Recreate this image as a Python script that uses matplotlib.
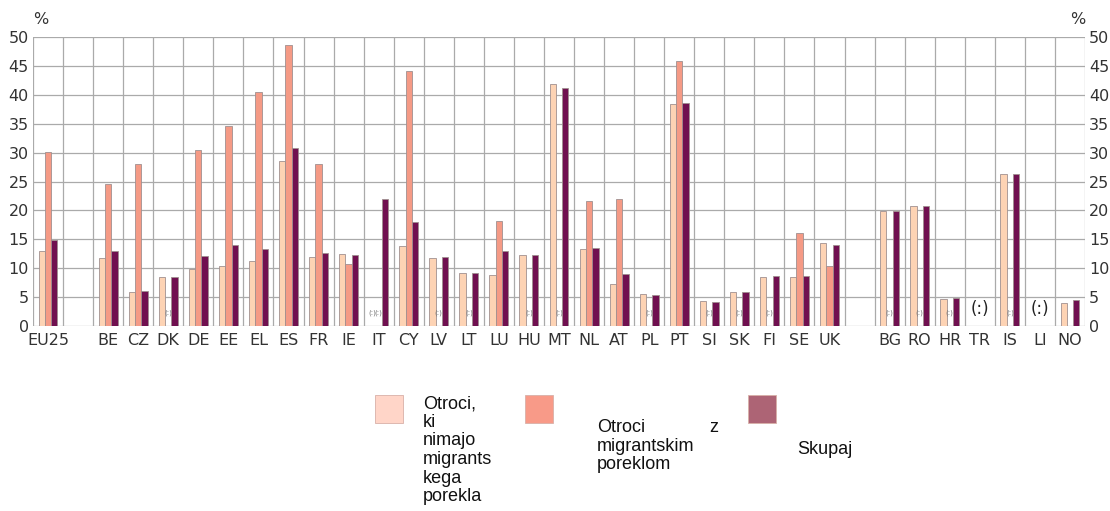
import numpy as np
import matplotlib
matplotlib.use("Agg")
import matplotlib.pyplot as plt
from matplotlib.patches import Rectangle

# categories ("" = empty slot)
countries = ["EU25", "", "BE", "CZ", "DK", "DE", "EE", "EL", "ES", "FR", "IE",
             "IT", "CY", "LV", "LT", "LU", "HU", "MT", "NL", "AT", "PL", "PT",
             "SI", "SK", "FI", "SE", "UK", "", "BG", "RO", "HR", "TR", "IS",
             "LI", "NO"]

# None = not available (:)
no_migrant = [13.0, None, 11.8, 5.8, 8.5, 9.8, 10.3, 11.3, 28.6, 11.9, 12.4,
              None, 13.9, 11.8, 9.2, 8.8, 12.2, 41.8, 13.3, 7.2, 5.5, 38.4,
              4.3, 5.9, 8.4, 8.4, 14.4, None, 19.9, 20.8, 4.7, None, 26.3,
              None, 4.0]
migrant = [30.1, None, 24.6, 28.1, None, 30.5, 34.6, 40.5, 48.7, 28.1, 10.8,
           None, 44.2, None, None, 18.2, None, None, 21.6, 22.0, None, 45.8,
           None, None, None, 16.1, 10.4, None, None, None, None, None, None,
           None, 0.0]
total = [14.9, None, 13.0, 6.1, 8.5, 12.1, 14.0, 13.3, 30.8, 12.6, 12.2,
         21.9, 18.0, 11.9, 9.2, 12.9, 12.2, 41.2, 13.5, 9.0, 5.4, 38.6,
         4.2, 5.8, 8.6, 8.6, 14.0, None, 19.9, 20.8, 4.8, None, 26.3,
         None, 4.5]

big_na = ["TR", "LI"]

c_light = "#fdd3b4"
c_mid = "#f59a85"
c_dark = "#701050"

fig = plt.figure(figsize=(11.1, 5.11), dpi=100)
ax = fig.add_axes([33 / 1110, 1 - 326 / 511, (1085 - 33) / 1110, (326 - 37) / 511])

x = np.arange(len(countries))
w = 0.21

def draw(vals, off, color):
    for xi, v in zip(x, vals):
        if v is not None and v > 0:
            ax.bar(xi + off, v, width=w, color=color, edgecolor="#a09090",
                   linewidth=0.6, zorder=3)

draw(no_migrant, -w, c_light)
draw(migrant, 0, c_mid)
draw(total, w, c_dark)

# not-available markers
for xi, name in enumerate(countries):
    if name == "":
        continue
    if name in big_na:
        ax.text(xi, 3.0, "(:)", ha="center", va="center", fontsize=12,
                color="#222222", zorder=4)
        continue
    for vals, off in ((no_migrant, -w), (migrant, 0), (total, w)):
        if vals[xi] is None:
            ax.text(xi + off, 2.3, "(:)", ha="center", va="center",
                    fontsize=5, color="#777777", zorder=4)

ax.set_xlim(-0.5, len(countries) - 0.5)
ax.set_ylim(0, 50)
ax.set_yticks(range(0, 51, 5))
ax.set_xticks(x)
ax.set_xticklabels(countries, fontsize=11.5, color="#333333")
ax.tick_params(axis="x", length=0, pad=5)
ax.tick_params(axis="y", length=0, labelsize=11.5, labelcolor="#333333",
               left=True, right=True, labelleft=True, labelright=True, pad=3)
ax.set_xticks(np.arange(-0.5, len(countries), 1), minor=True)
ax.grid(axis="x", which="minor", color="#aaaaaa", linewidth=0.9, zorder=0)
ax.grid(axis="y", which="major", color="#aaaaaa", linewidth=0.9, zorder=0)
ax.grid(axis="x", which="major", visible=False)
ax.tick_params(axis="x", which="minor", length=0)
for s in ax.spines.values():
    s.set_visible(False)

fig.text(33 / 1110, 1 - 20 / 511, "%", fontsize=11.5, color="#333333",
         ha="left", va="center")
fig.text(1085 / 1110, 1 - 20 / 511, "%", fontsize=11.5, color="#333333",
         ha="right", va="center")

# legend drawn by hand
def square(x0, y0, color):
    fig.patches.append(Rectangle((x0 / 1110, 1 - (y0 + 28) / 511), 28 / 1110,
                                 28 / 511, transform=fig.transFigure,
                                 facecolor=color, edgecolor="#d8b0a8",
                                 linewidth=0.6))

square(375, 395, "#ffd5c8")
square(525, 395, "#f89a88")
square(748, 395, "#ad6475")

lf = dict(fontsize=13, color="#111111", family="Liberation Sans",
          ha="left", va="top", linespacing=1.13)
fig.text(423 / 1110, 1 - 395 / 511,
         "Otroci,\nki\nnimajo\nmigrants\nkega\nporekla", **lf)
fig.text(597 / 1110, 1 - 419 / 511, "Otroci\nmigrantskim\nporeklom", **lf)
fig.text(709 / 1110, 1 - 419 / 511, "z", **lf)
fig.text(797 / 1110, 1 - 441 / 511, "Skupaj", **lf)

fig.savefig("out.png", dpi=100)
